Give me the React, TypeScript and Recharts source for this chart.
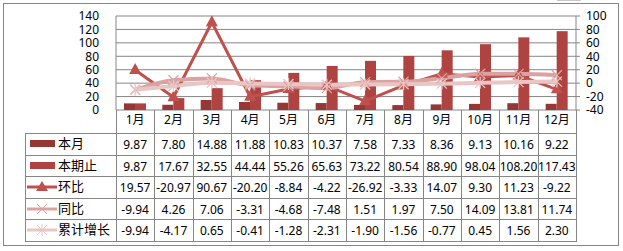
import { ComposedChart, Bar, Line, XAxis, YAxis, CartesianGrid } from 'recharts';

const months = ['1月', '2月', '3月', '4月', '5月', '6月', '7月', '8月', '9月', '10月', '11月', '12月'];
const benYue = [9.87, 7.8, 14.88, 11.88, 10.83, 10.37, 7.58, 7.33, 8.36, 9.13, 10.16, 9.22];
const benQiZhi = [9.87, 17.67, 32.55, 44.44, 55.26, 65.63, 73.22, 80.54, 88.9, 98.04, 108.2, 117.43];
const huanBi = [19.57, -20.97, 90.67, -20.2, -8.84, -4.22, -26.92, -3.33, 14.07, 9.3, 11.23, -9.22];
const tongBi = [-9.94, 4.26, 7.06, -3.31, -4.68, -7.48, 1.51, 1.97, 7.5, 14.09, 13.81, 11.74];
const leiJi = [-9.94, -4.17, 0.65, -0.41, -1.28, -2.31, -1.9, -1.56, -0.77, 0.45, 1.56, 2.3];
const leftTicks = [0, 20, 40, 60, 80, 100, 120, 140];
const rightTicks = [-40, -20, 0, 20, 40, 60, 80, 100];

const data = months.map((m, i) => ({
  month: m,
  benYue: benYue[i],
  benQiZhi: benQiZhi[i],
  huanBi: huanBi[i],
  tongBi: tongBi[i],
  leiJi: leiJi[i],
}));

const C_BY = '#953735';
const C_BQ = '#AE4341';
const C_HB = '#C0504D';
const C_TB = '#DCA2A1';
const C_LJ = '#E9C5C4';
const GRID = '#868686';
const FONT = '"Noto Sans", "Noto Sans CJK SC", sans-serif';

const Tri = (p: any) => {
  const { cx, cy, key } = p;
  return <polygon key={key} points={`${cx},${cy - 7} ${cx - 6},${cy + 4} ${cx + 6},${cy + 4}`} fill={C_HB} />;
};
const Cross = (p: any) => {
  const { cx, cy, key } = p;
  return (
    <g key={key} stroke={C_TB} strokeWidth={1.3}>
      <line x1={cx - 5} y1={cy - 5} x2={cx + 5} y2={cy + 5} />
      <line x1={cx - 5} y1={cy + 5} x2={cx + 5} y2={cy - 5} />
    </g>
  );
};
const Star = (p: any) => {
  const { cx, cy, key } = p;
  return (
    <g key={key} stroke={C_LJ} strokeWidth={1.3}>
      <line x1={cx - 5} y1={cy - 5} x2={cx + 5} y2={cy + 5} />
      <line x1={cx - 5} y1={cy + 5} x2={cx + 5} y2={cy - 5} />
      <line x1={cx} y1={cy - 6} x2={cx} y2={cy + 6} />
    </g>
  );
};

const rows = [
  { name: '本月', values: benYue, kind: 'bar', color: C_BY },
  { name: '本期止', values: benQiZhi, kind: 'bar', color: C_BQ },
  { name: '环比', values: huanBi, kind: 'tri', color: C_HB },
  { name: '同比', values: tongBi, kind: 'x', color: C_TB },
  { name: '累计增长', values: leiJi, kind: 'star', color: C_LJ },
];

const PL = 116;
const PR = 576;
const COL = (PR - PL) / 12;
const TOP = 110;
const HEAD = 133;
const ROWH = 21.6;
const TL = 25;

function Key({ kind, color }: { kind: string; color: string }) {
  if (kind === 'bar') return <div style={{ position: 'absolute', left: 30, top: 7, width: 25, height: 7, background: color }} />;
  return (
    <svg style={{ position: 'absolute', left: 26, top: 3 }} width={32} height={16}>
      <line x1={1} y1={8} x2={31} y2={8} stroke={color} strokeWidth={3} />
      {kind === 'tri' && <polygon points="16,2 10,12 22,12" fill={color} />}
      {kind === 'x' && (
        <g stroke={color} strokeWidth={1}>
          <line x1={11} y1={3} x2={21} y2={13} />
          <line x1={11} y1={13} x2={21} y2={3} />
        </g>
      )}
      {kind === 'star' && (
        <g stroke={color} strokeWidth={1}>
          <line x1={11} y1={3} x2={21} y2={13} />
          <line x1={11} y1={13} x2={21} y2={3} />
          <line x1={16} y1={2} x2={16} y2={14} />
        </g>
      )}
    </svg>
  );
}

export default function App() {
  const line = (extra: any) => ({ position: 'absolute' as const, background: GRID, ...extra });
  return (
    <div style={{ position: 'absolute', left: 0, top: 0, width: 623, height: 251, background: '#fff', fontFamily: FONT }}>
      <div style={{ position: 'absolute', left: 3, top: 3, width: 614, height: 241, border: `1px solid ${GRID}` }} />
      <div style={{ position: 'absolute', left: 557, top: 0, width: 24, height: 1, background: '#c8c8c8' }} />
      <div style={{ position: 'absolute', left: 0, top: 0 }}>
        <ComposedChart width={623} height={251} data={data} margin={{ top: 16, right: 0, bottom: 118, left: 0 }} barGap={0}>
          <CartesianGrid yAxisId="left" vertical={false} stroke={GRID} strokeOpacity={1} />
          <XAxis dataKey="month" height={23} axisLine={false} tickLine={false} tickSize={0} tickMargin={5} tick={{ fontSize: 12, fill: '#000', fontFamily: FONT }} />
          <YAxis yAxisId="left" width={116} domain={[0, 140]} ticks={leftTicks} interval={0} tickLine={false} tickSize={0} tickMargin={17} axisLine={{ stroke: GRID }} tick={{ fontSize: 12, fill: '#000', fontFamily: FONT }} />
          <YAxis yAxisId="right" orientation="right" width={47} domain={[-40, 100]} ticks={rightTicks} interval={0} tickSize={4} tickMargin={6} tickLine={{ stroke: GRID }} axisLine={{ stroke: GRID }} tick={{ fontSize: 12, fill: '#000', fontFamily: FONT }} />
          <Bar yAxisId="left" dataKey="benYue" fill={C_BY} barSize={11} isAnimationActive={false} />
          <Bar yAxisId="left" dataKey="benQiZhi" fill={C_BQ} barSize={11} isAnimationActive={false} />
          <Line yAxisId="right" type="linear" dataKey="huanBi" stroke={C_HB} strokeWidth={3} dot={Tri} activeDot={false} isAnimationActive={false} />
          <Line yAxisId="right" type="monotone" dataKey="tongBi" stroke={C_TB} strokeWidth={4} dot={Cross} activeDot={false} isAnimationActive={false} />
          <Line yAxisId="right" type="monotone" dataKey="leiJi" stroke={C_LJ} strokeWidth={4} dot={Star} activeDot={false} isAnimationActive={false} />
        </ComposedChart>
      </div>
      {/* data table */}
      {months.map((_, i) => (
        <div key={'v' + i} style={line({ left: Math.round(PL + i * COL), top: TOP, width: 1, height: HEAD + ROWH * 5 - TOP + 1 })} />
      ))}
      <div style={line({ left: PR, top: TOP, width: 1, height: HEAD + ROWH * 5 - TOP + 1 })} />
      <div style={line({ left: TL, top: HEAD, width: 1, height: ROWH * 5 + 1 })} />
      {[0, 1, 2, 3, 4, 5].map((r) => (
        <div key={'h' + r} style={line({ left: TL, top: Math.round(HEAD + r * ROWH), width: PR - TL + 1, height: 1 })} />
      ))}
      {rows.map((row, r) => (
        <div key={row.name} style={{ position: 'absolute', left: 0, top: HEAD + r * ROWH, width: 623, height: ROWH, fontSize: 12, color: '#000' }}>
          <Key kind={row.kind} color={row.color} />
          <div style={{ position: 'absolute', left: 58, top: 0, lineHeight: ROWH + 'px', fontSize: 13 }}>{row.name}</div>
          {row.values.map((v, i) => (
            <div key={i} style={{ position: 'absolute', left: PL + i * COL, width: COL, top: 1, lineHeight: ROWH + 'px', textAlign: 'center', whiteSpace: 'nowrap' }}>
              {v.toFixed(2)}
            </div>
          ))}
        </div>
      ))}
    </div>
  );
}
